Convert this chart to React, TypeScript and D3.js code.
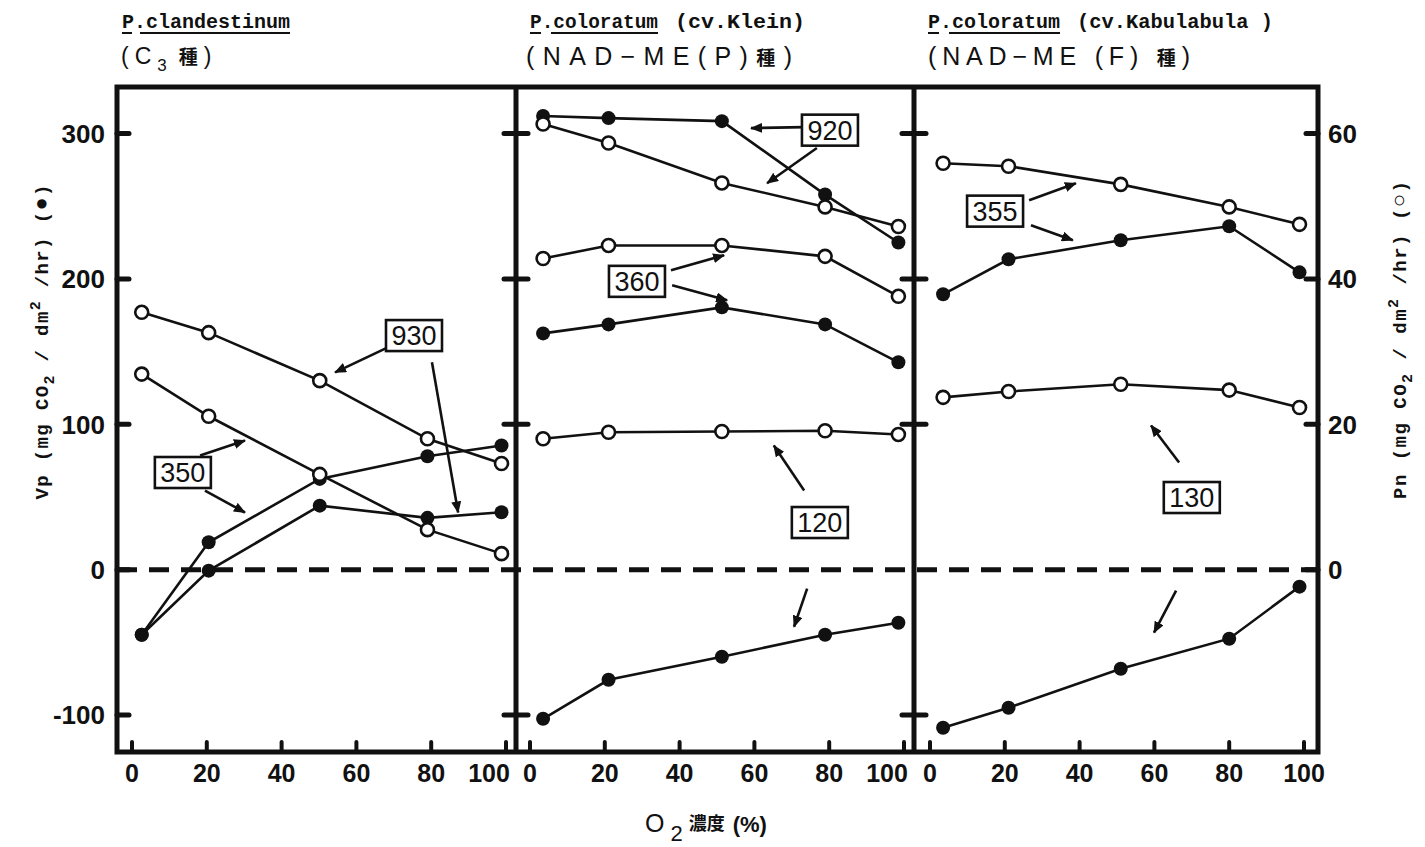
import React from 'react';
import * as d3 from 'd3';

// O2 concentration (%) per panel
const p1O2 = [2.6, 20.5, 50.2, 79, 98.8];
const p2O2 = [3.5, 21.0, 51.3, 78.9, 98.5];
const p3O2 = [3.5, 21.0, 51.0, 80.0, 98.8];

// P. clandestinum
const p1Vp350 = [-44.8, 18.8, 62.4, 78.0, 85.4];
const p1Vp930 = [-44.8, -0.7, 44.0, 35.6, 39.5];
const p1Pn350 = [26.9, 21.1, 13.1, 5.5, 2.2];
const p1Pn930 = [35.4, 32.6, 26.0, 18.0, 14.6];

// P. coloratum (cv. Klein)
const p2Vp920 = [312, 310.6, 308.5, 258, 225];
const p2Pn920 = [61.3, 58.7, 53.2, 49.9, 47.2];
const p2Vp360 = [162.5, 168.7, 180.4, 168.7, 142.6];
const p2Pn360 = [42.8, 44.6, 44.6, 43.1, 37.6];
const p2Vp120 = [-102.6, -75.8, -59.9, -44.8, -36.5];
const p2Pn120 = [18.0, 18.9, 19.0, 19.1, 18.6];

// P. coloratum (cv. Kabulabula)
const p3Vp355 = [189.4, 213.5, 226.6, 236.2, 204.5];
const p3Pn355 = [55.9, 55.5, 53.0, 49.9, 47.5];
const p3Vp130 = [-108.8, -95.0, -68.2, -47.5, -11.7];
const p3Pn130 = [23.7, 24.5, 25.5, 24.7, 22.3];

const xTicks = [0, 20, 40, 60, 80, 100];
const vpTicks = [-100, 0, 100, 200, 300];
const pnTicks = [0, 20, 40, 60];

// boxed light-intensity labels, in data coords (O2 %, Vp)
type Note = { label: string; at: [number, number]; arrows: [number, number, number, number][] };
const p1Notes: Note[] = [
  { label: '930', at: [75.4, 161], arrows: [[68.4, 152.9, 54.3, 135.7], [80.2, 142.6, 87.2, 39.3]] },
  { label: '350', at: [13.6, 66.8], arrows: [[18.2, 78.5, 30.2, 88.8], [19.5, 54.4, 30.2, 39.3]] },
];
const p2Notes: Note[] = [
  { label: '920', at: [80.2, 302.3], arrows: [[73.3, 304.4, 59.1, 303.7], [76.7, 290, 63.4, 265.8]] },
  { label: '360', at: [28.6, 198.3], arrows: [[37.7, 205.9, 51.9, 216.3], [38, 195.6, 52.7, 185.3]] },
  { label: '120', at: [77.5, 32.4], arrows: [[73.3, 54.4, 65.2, 85.4], [74.1, -13.1, 70.6, -39.3]] },
];
const p3Notes: Note[] = [
  { label: '355', at: [17.4, 246.6], arrows: [[26.5, 254.1, 39, 265.8], [27, 236.9, 38.2, 226.6]] },
  { label: '130', at: [70, 49.6], arrows: [[66.6, 73.7, 59.1, 99.2], [65.8, -14.5, 59.9, -43.4]] },
];

type Panel = { o2: number[]; vp: number[][]; pn: number[][]; notes: Note[] };

const panels: Panel[] = [
  { o2: p1O2, vp: [p1Vp350, p1Vp930], pn: [p1Pn350, p1Pn930], notes: p1Notes },
  { o2: p2O2, vp: [p2Vp920, p2Vp360, p2Vp120], pn: [p2Pn920, p2Pn360, p2Pn120], notes: p2Notes },
  { o2: p3O2, vp: [p3Vp355, p3Vp130], pn: [p3Pn355, p3Pn130], notes: p3Notes },
];

const W = 1425;
const H = 847;
const frameL = 117;
const frameR = 1318;
const frameT = 87;
const frameB = 752;
const dividers = [516, 914];
const zeroX = [132, 530, 930];
const span = 374;

const yVp = d3.scaleLinear().domain([-100, 300]).range([715, 133.5]);
const yPn = d3.scaleLinear().domain([-20, 60]).range([715, 133.5]);

const ink = '#111';
const mono = '"Liberation Mono", "DejaVu Sans Mono", monospace';
const sans = '"Liberation Sans", Arial, sans-serif';
const cjk = '"Noto Sans CJK JP", sans-serif';

export default function App() {
  const xs = zeroX.map(x0 => d3.scaleLinear().domain([0, 100]).range([x0, x0 + span]));
  const line = d3.line<[number, number]>().x(d => d[0]).y(d => d[1]);

  return (
    <svg width={W} height={H} style={{ position: 'absolute', left: 0, top: 0, background: '#fff' }}
      fontFamily={sans}>
      <defs>
        <marker id="ah" viewBox="0 0 12 10" refX="11" refY="5" markerWidth="12" markerHeight="10"
          markerUnits="userSpaceOnUse" orient="auto">
          <path d="M0,0 L12,5 L0,10 Z" fill={ink} />
        </marker>
      </defs>

      {/* titles */}
      <g fill={ink}>
        <text x={122} y={28} fontFamily={mono} fontWeight="bold" fontSize={20} textLength={168} lengthAdjust="spacingAndGlyphs">P.clandestinum</text>
        <line x1={122} x2={132} y1={33} y2={33} stroke={ink} strokeWidth={2} />
        <line x1={140} x2={290} y1={33} y2={33} stroke={ink} strokeWidth={2} />
        <text x={121} y={64} fontSize={23} letterSpacing={6}>
          (C<tspan fontSize={17} dy={7}>3</tspan><tspan dy={-7} fontFamily={cjk} fontWeight="bold" fontSize={19} dx={6}>種</tspan>)
        </text>

        <text x={530} y={28} fontFamily={mono} fontWeight="bold" fontSize={20} textLength={128} lengthAdjust="spacingAndGlyphs">P.coloratum</text>
        <line x1={530} x2={541} y1={33} y2={33} stroke={ink} strokeWidth={2} />
        <line x1={551} x2={658} y1={33} y2={33} stroke={ink} strokeWidth={2} />
        <text x={675} y={28} fontFamily={mono} fontWeight="bold" fontSize={20} textLength={130} lengthAdjust="spacingAndGlyphs">(cv.Klein)</text>
        <text x={526} y={65} fontSize={25} textLength={266} lengthAdjust="spacing">
          (NAD−ME(P)<tspan fontFamily={cjk} fontWeight="bold" fontSize={19}>種</tspan>)
        </text>

        <text x={928} y={28} fontFamily={mono} fontWeight="bold" fontSize={20} textLength={132} lengthAdjust="spacingAndGlyphs">P.coloratum</text>
        <line x1={928} x2={939} y1={33} y2={33} stroke={ink} strokeWidth={2} />
        <line x1={949} x2={1060} y1={33} y2={33} stroke={ink} strokeWidth={2} />
        <text x={1077} y={28} fontFamily={mono} fontWeight="bold" fontSize={20} textLength={196} lengthAdjust="spacingAndGlyphs">(cv.Kabulabula )</text>
        <text x={928} y={65} fontSize={25} textLength={262} lengthAdjust="spacing">
          (NAD−ME (F) <tspan fontFamily={cjk} fontWeight="bold" fontSize={19}>種</tspan>)
        </text>
      </g>

      {/* zero dashed line */}
      <line x1={frameL} x2={frameR} y1={yVp(0)} y2={yVp(0)} stroke={ink} strokeWidth={5}
        strokeDasharray="20 12" />

      {/* frame */}
      <rect x={frameL} y={frameT} width={frameR - frameL} height={frameB - frameT}
        fill="none" stroke={ink} strokeWidth={5} />
      {dividers.map(d => (
        <line key={d} x1={d} x2={d} y1={frameT} y2={frameB} stroke={ink} strokeWidth={5} />
      ))}

      {/* y ticks */}
      <g stroke={ink} strokeWidth={5} strokeLinecap="round">
        {vpTicks.map(v => (
          <line key={'l' + v} x1={frameL} x2={frameL + 12} y1={yVp(v)} y2={yVp(v)} />
        ))}
        {dividers.map(d => vpTicks.filter(v => v !== 0).map(v => (
          <line key={d + '_' + v} x1={d - 12} x2={d + 12} y1={yVp(v)} y2={yVp(v)} />
        )))}
        {pnTicks.map(v => (
          <line key={'r' + v} x1={frameR - 12} x2={frameR} y1={yPn(v)} y2={yPn(v)} />
        ))}
      </g>
      <g fill={ink} fontWeight="bold" fontSize={26}>
        {vpTicks.map(v => (
          <text key={v} x={105} y={yVp(v)} dy="0.36em" textAnchor="end">{v === -100 ? '-100' : v}</text>
        ))}
        {pnTicks.map(v => (
          <text key={v} x={1328} y={yPn(v)} dy="0.36em">{v}</text>
        ))}
      </g>

      {/* x ticks */}
      {xs.map((x, i) => (
        <g key={i}>
          <g stroke={ink} strokeWidth={4} strokeLinecap="round">
            {xTicks.map(t => (
              <line key={t} x1={x(t)} x2={x(t)} y1={frameB} y2={frameB - 10} />
            ))}
          </g>
          <g fill={ink} fontSize={25} fontWeight="bold" textAnchor="middle">
            {xTicks.map(t => (
              <text key={t} x={x(t) + (t === 100 && i < 2 ? -17 : 0)} y={782}>{t}</text>
            ))}
          </g>
        </g>
      ))}

      {/* series */}
      {panels.map((p, i) => {
        const x = xs[i];
        return (
          <g key={i}>
            {p.vp.map((s, k) => (
              <path key={'vl' + k} d={line(s.map((v, j) => [x(p.o2[j]), yVp(v)]))!}
                fill="none" stroke={ink} strokeWidth={2.6} />
            ))}
            {p.pn.map((s, k) => (
              <path key={'pl' + k} d={line(s.map((v, j) => [x(p.o2[j]), yPn(v)]))!}
                fill="none" stroke={ink} strokeWidth={2.6} />
            ))}
            {p.vp.map((s, k) => s.map((v, j) => (
              <circle key={'vc' + k + '_' + j} cx={x(p.o2[j])} cy={yVp(v)} r={7} fill={ink} />
            )))}
            {p.pn.map((s, k) => s.map((v, j) => (
              <circle key={'pc' + k + '_' + j} cx={x(p.o2[j])} cy={yPn(v)} r={6.5} fill="#fff"
                stroke={ink} strokeWidth={2.6} />
            )))}
            {p.notes.map(n => (
              <g key={n.label}>
                {n.arrows.map((a, m) => (
                  <line key={m} x1={x(a[0])} y1={yVp(a[1])} x2={x(a[2])} y2={yVp(a[3])}
                    stroke={ink} strokeWidth={2.6} markerEnd="url(#ah)" />
                ))}
                <rect x={x(n.at[0]) - 28} y={yVp(n.at[1]) - 15.5} width={56} height={31}
                  fill="#fff" stroke={ink} strokeWidth={2.6} />
                <text x={x(n.at[0])} y={yVp(n.at[1])} dy="0.36em" textAnchor="middle"
                  fontSize={27} fill={ink}>{n.label}</text>
              </g>
            ))}
          </g>
        );
      })}

      {/* axis titles */}
      <text transform="translate(48,342) rotate(-90)" textAnchor="middle" fontFamily={mono}
        fontWeight="bold" fontSize={19} fill={ink} textLength={315} lengthAdjust="spacing">
        Vp (mg  CO<tspan fontSize={15} dy={6}>2</tspan><tspan dy={-6}> / dm</tspan><tspan fontSize={15} dy={-8}>2</tspan><tspan dy={8}> /hr) (</tspan><tspan fontFamily={sans} fontSize={22}>●</tspan>)
      </text>
      <text transform="translate(1406,340) rotate(-90)" textAnchor="middle" fontFamily={mono}
        fontWeight="bold" fontSize={19} fill={ink} textLength={318} lengthAdjust="spacing">
        Pn (mg  CO<tspan fontSize={15} dy={6}>2</tspan><tspan dy={-6}> / dm</tspan><tspan fontSize={15} dy={-8}>2</tspan><tspan dy={8}> /hr) (</tspan><tspan fontFamily={sans} fontSize={22}>○</tspan>)
      </text>
      <text x={645} y={832} fontSize={25} fill={ink}>
        O<tspan dx={6} dy={9} fontSize={22}>2</tspan><tspan dy={-11} dx={6} fontFamily={cjk} fontWeight="bold" fontSize={18}>濃度</tspan><tspan dy={2} dx={8} fontWeight="bold" fontSize={22}>(%)</tspan>
      </text>
    </svg>
  );
}
